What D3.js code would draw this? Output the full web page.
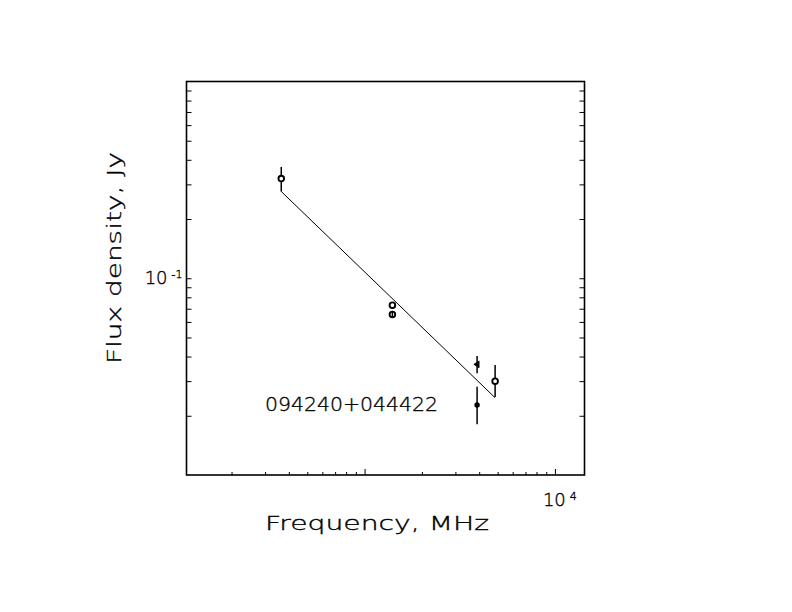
<!DOCTYPE html>
<html><head><meta charset="utf-8">
<script src="https://cdn.jsdelivr.net/npm/d3@7"></script>
<style>
html,body{margin:0;padding:0;background:#fff;}
svg{display:block;}
text{font-family:"DejaVu Sans","Liberation Sans",sans-serif;font-weight:200;fill:#000;stroke:#000;stroke-width:0.35px;}
</style></head>
<body>
<script>
// ---- data ----
const freqMHz   = [365, 1400, 1400, 3900, 3900, 4850];
const fluxJy    = [0.321, 0.0730, 0.0655, 0.0365, 0.0227, 0.0300];
const errLowJy  = [0.276, null, 0.0633, 0.0329, 0.0181, 0.0249];
const errHighJy = [0.368, null, 0.0678, 0.0402, 0.0281, 0.0362];
const markerType = ["open", "open", "open", "triangle", "dot", "open"];
const fitFreqMHz = [365, 4850];
const fitFluxJy  = [0.276, 0.0247];
const xDomain = [116, 14300];
const yDomain = [0.01, 1];
const xMajorTicks = [1000, 10000];
const yMajorTicks = [0.1];
const sourceName = "094240+044422";
const xTitle = "Frequency, MHz";
const yTitle = "Flux density, Jy";

// ---- layout ----
const W = 792, H = 612;
const L = 186.5, R = 584.5, T = 81.5, B = 475;

const svg = d3.select("body").append("svg").attr("width", W).attr("height", H);

const x = d3.scaleLog().domain(xDomain).range([L, R]);
const y = d3.scaleLog().domain(yDomain).range([B, T]);

const inside = (v, d) => v > d[0] * 1.001 && v < d[1] / 1.001;
const xTicks = x.ticks().filter(v => inside(v, xDomain));
const yTicks = y.ticks().filter(v => inside(v, yDomain));
const isMajor = (v, arr) => arr.some(m => Math.abs(m - v) / m < 1e-6);

function styleAxis(g) {
  g.select(".domain").remove();
  g.selectAll(".tick line").attr("stroke", "#000").attr("stroke-width", 1);
  g.selectAll(".tick text").remove();
}

// bottom axis: minor and major ticks inward
svg.append("g").attr("transform", `translate(0,${B})`)
  .call(d3.axisBottom(x).tickValues(xTicks.filter(v => !isMajor(v, xMajorTicks))).tickSizeInner(-3).tickSizeOuter(0).tickFormat(""))
  .call(styleAxis);
svg.append("g").attr("transform", `translate(0,${B})`)
  .call(d3.axisBottom(x).tickValues(xTicks.filter(v => isMajor(v, xMajorTicks))).tickSizeInner(-6).tickSizeOuter(0).tickFormat(""))
  .call(styleAxis);

// left & right axes
svg.append("g").attr("transform", `translate(${L},0)`)
  .call(d3.axisLeft(y).tickValues(yTicks).tickSizeInner(-5).tickSizeOuter(0).tickFormat(""))
  .call(styleAxis);
svg.append("g").attr("transform", `translate(${R},0)`)
  .call(d3.axisRight(y).tickValues(yTicks).tickSizeInner(-5).tickSizeOuter(0).tickFormat(""))
  .call(styleAxis);

// frame
svg.append("rect").attr("x", L).attr("y", T).attr("width", R - L).attr("height", B - T)
  .attr("fill", "none").attr("stroke", "#000").attr("stroke-width", 1.6);

// tick labels with superscript exponents
function powLabel(xr, yb, anchorEnd, exp) {
  const t = svg.append("text").attr("y", yb).style("font-size", "18px");
  t.append("tspan").text("10");
  t.append("tspan").attr("dx", 4).attr("dy", -6).style("font-size", "11px").text(exp);
  t.attr("x", xr);
  if (anchorEnd) t.attr("text-anchor", "end");
}
yMajorTicks.forEach(v => powLabel(L - 4, y(v) + 6, true, String(Math.round(Math.log10(v)))));
xMajorTicks.filter(v => v === 10000).forEach(v => powLabel(x(v) - 12, B + 31, false, String(Math.round(Math.log10(v)))));

// fit line
svg.append("path")
  .attr("d", d3.line().x(d => x(d[0])).y(d => y(d[1]))(fitFreqMHz.map((f, i) => [f, fitFluxJy[i]])))
  .attr("fill", "none").attr("stroke", "#000").attr("stroke-width", 1);

// error bars
freqMHz.forEach((f, i) => {
  if (errLowJy[i] == null) return;
  svg.append("line").attr("x1", x(f)).attr("x2", x(f))
    .attr("y1", y(errLowJy[i])).attr("y2", y(errHighJy[i]))
    .attr("stroke", "#000").attr("stroke-width", 1.5);
});

// markers
freqMHz.forEach((f, i) => {
  const cx = x(f), cy = y(fluxJy[i]);
  const m = markerType[i];
  if (m === "open") {
    svg.append("circle").attr("cx", cx).attr("cy", cy).attr("r", 2.8)
      .attr("fill", "#fff").attr("stroke", "#000").attr("stroke-width", 1.9);
    if (errLowJy[i] != null && i === 2) {
      svg.append("line").attr("x1", cx).attr("x2", cx).attr("y1", y(errLowJy[i])).attr("y2", y(errHighJy[i]))
        .attr("stroke", "#000").attr("stroke-width", 1.5);
    }
  } else if (m === "dot") {
    svg.append("circle").attr("cx", cx).attr("cy", cy).attr("r", 2.7).attr("fill", "#000");
  } else if (m === "triangle") {
    svg.append("path").attr("d", `M${cx - 3.2},${cy} L${cx + 2},${cy - 3.4} L${cx + 2},${cy + 3.4} Z`)
      .attr("fill", "#000").attr("stroke", "#000").attr("stroke-width", 0.8);
  }
});

// source name
svg.append("text").attr("x", 265).attr("y", 411).style("font-size", "19px")
  .attr("textLength", 173).attr("lengthAdjust", "spacingAndGlyphs").text(sourceName);

// axis titles
svg.append("text").attr("x", 265).attr("y", 530).style("font-size", "19px")
  .attr("textLength", 224).attr("lengthAdjust", "spacingAndGlyphs").text(xTitle);
svg.append("text").attr("transform", "translate(121,364) rotate(-90)").style("font-size", "19px")
  .attr("textLength", 212).attr("lengthAdjust", "spacingAndGlyphs").text(yTitle);
</script>
</body></html>
